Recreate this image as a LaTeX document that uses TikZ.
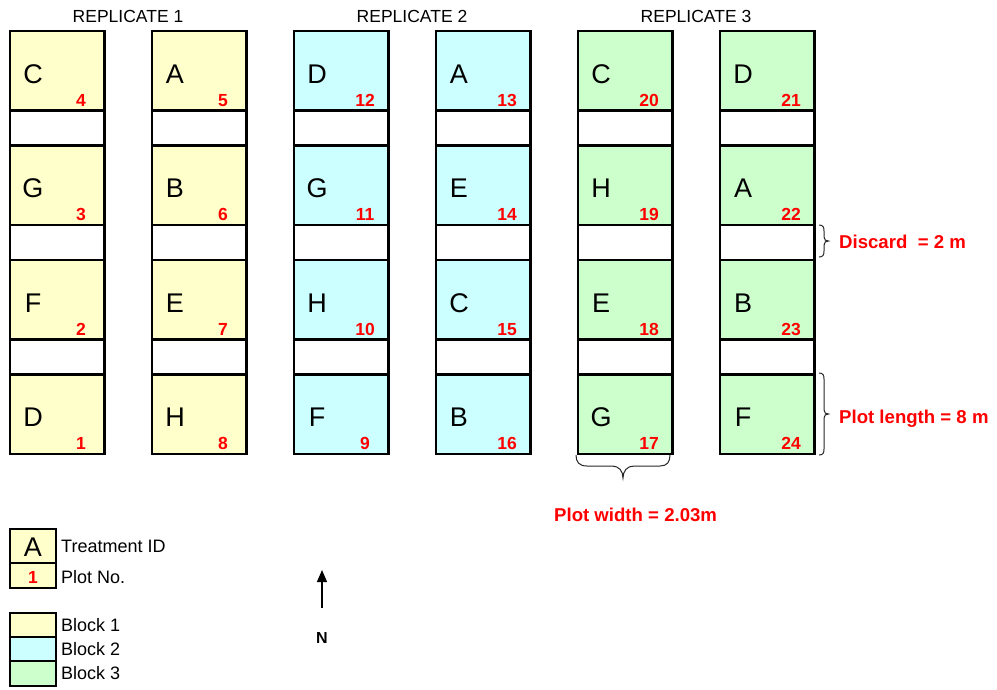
\documentclass[tikz,border=0pt]{standalone}
\usepackage{fontspec}
\setmainfont{Liberation Sans}
\usetikzlibrary{calc,arrows.meta}
\definecolor{bOne}{HTML}{FFFFCC}
\definecolor{bTwo}{HTML}{CCFFFF}
\definecolor{bThree}{HTML}{CCFFCC}
\definecolor{lblred}{HTML}{FF0000}
\tikzset{
  plotbox/.style={draw=black, line width=2.2pt, rectangle, minimum width=94.5pt, minimum height=79.5pt, inner sep=0pt, outer sep=0pt, anchor=north west},
  discbox/.style={draw=black, line width=2.2pt, rectangle, fill=white, minimum width=94.5pt, minimum height=35pt, inner sep=0pt, outer sep=0pt, anchor=north west},
  trt/.style={anchor=base, inner sep=0pt, font=\fontsize{27}{27}\selectfont},
  pno/.style={anchor=base, inner sep=0pt, text=lblred, font=\fontsize{17.5}{17.5}\selectfont\bfseries},
  reptitle/.style={anchor=base, inner sep=0pt, font=\fontsize{17.5}{17.5}\selectfont},
  redlabel/.style={anchor=base west, inner sep=0pt, text=lblred, font=\fontsize{18.6}{18.6}\selectfont\bfseries},
  legtext/.style={anchor=base west, inner sep=0pt, font=\fontsize{18}{18}\selectfont},
  legbox/.style={draw=black, line width=2.2pt, rectangle, inner sep=0pt, outer sep=0pt, minimum width=46pt, anchor=north west},
  bracestyle/.style={draw=black!85, line width=1pt},
}
\newcommand\plotCell[5]{%
  \node[plotbox,fill=#3] (p#5) at (#1,#2) {};
  \node[trt] (t#5) at ($(p#5.north west)+(23,52)$) {#4};
  \node[pno] (n#5) at ($(p#5.north west)+(71,75)$) {#5};
}
\newcommand\discCell[3]{\node[discbox] (#3) at (#1,#2) {};}
\newcommand\vBrace[4]{%
  \pgfmathsetmacro\bmid{(#2+#3)/2}
  \draw[bracestyle] (#1,#2) .. controls (#1+4,#2) and (#1+5,#2+2) .. (#1+5,#2+6) -- (#1+5,\bmid-4) .. controls (#1+5,\bmid-1) and (#1+7,\bmid) .. (#1+9.5,\bmid) .. controls (#1+7,\bmid) and (#1+5,\bmid+1) .. (#1+5,\bmid+4) -- (#1+5,#3-6) .. controls (#1+5,#3-2) and (#1+4,#3) .. (#1,#3);
  \coordinate (#4) at (#1+9.5,\bmid);
}
\begin{document}
\begin{tikzpicture}[x=1pt,y=-1pt]
\useasboundingbox (0,0) rectangle (997,689);

% discard strips
\foreach \xx/\cc in {10/a,152/b,294/c,436/d,578/e,720/f}{
  \discCell{\xx}{110.5}{disc\cc1}
  \discCell{\xx}{225}{disc\cc2}
  \discCell{\xx}{339.5}{disc\cc3}
}

% Replicate 1
\plotCell{10}{31}{bOne}{C}{4}
\plotCell{10}{145.5}{bOne}{G}{3}
\plotCell{10}{260}{bOne}{F}{2}
\plotCell{10}{374.5}{bOne}{D}{1}
\plotCell{152}{31}{bOne}{A}{5}
\plotCell{152}{145.5}{bOne}{B}{6}
\plotCell{152}{260}{bOne}{E}{7}
\plotCell{152}{374.5}{bOne}{H}{8}
% Replicate 2
\plotCell{294}{31}{bTwo}{D}{12}
\plotCell{294}{145.5}{bTwo}{G}{11}
\plotCell{294}{260}{bTwo}{H}{10}
\plotCell{294}{374.5}{bTwo}{F}{9}
\plotCell{436}{31}{bTwo}{A}{13}
\plotCell{436}{145.5}{bTwo}{E}{14}
\plotCell{436}{260}{bTwo}{C}{15}
\plotCell{436}{374.5}{bTwo}{B}{16}
% Replicate 3
\plotCell{578}{31}{bThree}{C}{20}
\plotCell{578}{145.5}{bThree}{H}{19}
\plotCell{578}{260}{bThree}{E}{18}
\plotCell{578}{374.5}{bThree}{G}{17}
\plotCell{720}{31}{bThree}{D}{21}
\plotCell{720}{145.5}{bThree}{A}{22}
\plotCell{720}{260}{bThree}{B}{23}
\plotCell{720}{374.5}{bThree}{F}{24}

% titles
\node[reptitle] (rep1) at (128,22.7) {REPLICATE 1};
\node[reptitle] (rep2) at (412,22.7) {REPLICATE 2};
\node[reptitle] (rep3) at (696,22.7) {REPLICATE 3};

% braces and labels
\vBrace{819}{225}{257}{tipDisc}
\node[redlabel] (lblDisc) at (839,248) {Discard\ \ = 2 m};
\vBrace{819}{373}{455}{tipLen}
\node[redlabel] (lblLen) at (839,423) {Plot length = 8 m};
\draw[bracestyle] (576,455) .. controls (576,462) and (579,466) .. (587,466) -- (612,466) .. controls (619,466) and (623,471) .. (623,478) .. controls (623,471) and (627,466) .. (634,466) -- (660,466) .. controls (667,466) and (670,462) .. (670,455);
\node[redlabel] (lblWid) at (554,521) {Plot width = 2.03m};

% legend
\node[legbox, fill=bOne, minimum height=34pt] (legA) at (10,529) {};
\node[legbox, fill=bOne, minimum height=25pt] (leg1) at (10,563) {};
\node[trt] (legAt) at (33,556) {A};
\node[pno] (leg1t) at (33,583) {1};
\node[legtext] (legTrt) at (61,552) {Treatment ID};
\node[legtext] (legPno) at (61,583) {Plot No.};

\node[legbox, fill=bOne, minimum height=24pt] (legB1) at (10,613) {};
\node[legbox, fill=bTwo, minimum height=24pt] (legB2) at (10,637) {};
\node[legbox, fill=bThree, minimum height=25pt] (legB3) at (10,661) {};
\node[legtext] (legB1t) at (61,631) {Block 1};
\node[legtext] (legB2t) at (61,655) {Block 2};
\node[legtext] (legB3t) at (61,679) {Block 3};

% north arrow
\coordinate (nBot) at (322,608);
\coordinate (nTop) at (322,570);
\draw[line width=1.3pt, -{Triangle[width=10pt,length=12pt]}] (nBot) -- (nTop);
\node[anchor=base, inner sep=0pt, font=\fontsize{16}{16}\selectfont\bfseries] (north) at (322,643) {N};
\end{tikzpicture}
\end{document}
